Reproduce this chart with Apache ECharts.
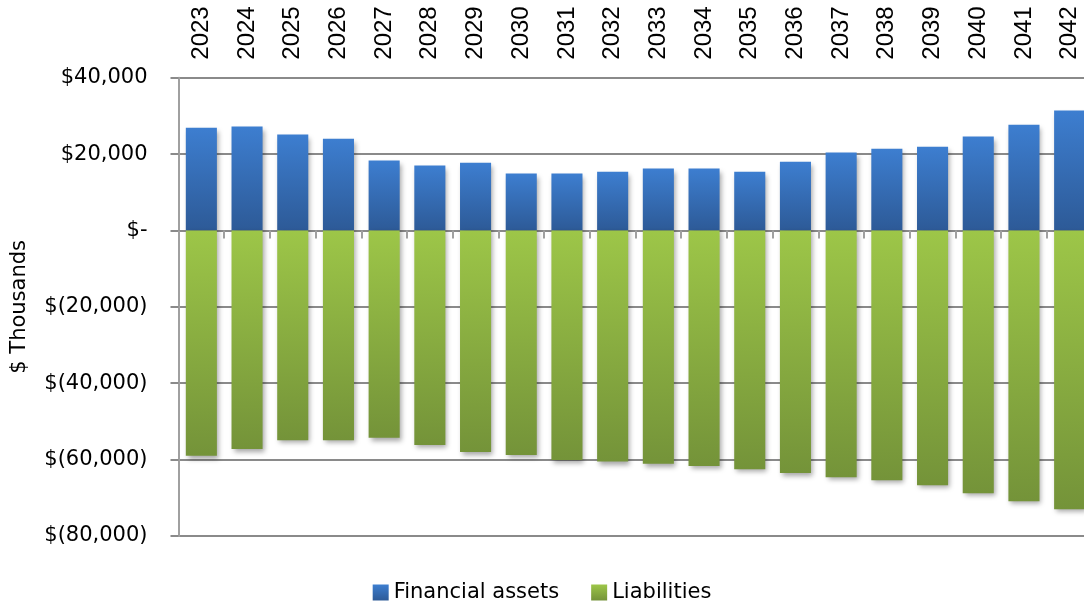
<!DOCTYPE html>
<html>
<head>
<meta charset="utf-8">
<script src="https://cdn.jsdelivr.net/npm/echarts@6/dist/echarts.min.js"></script>
<style>
  html, body { margin: 0; padding: 0; background: #fff; }
  #main { width: 1084px; height: 603px; }
</style>
</head>
<body>
<div id="main"></div>
<script>
var years = ['2023','2024','2025','2026','2027','2028','2029','2030','2031','2032',
             '2033','2034','2035','2036','2037','2038','2039','2040','2041','2042'];
// $ thousands
var financialAssets = [26900, 27200, 25100, 24000, 18300, 17000, 17700, 14900, 14900, 15400,
                       16200, 16200, 15400, 18000, 20400, 21400, 21900, 24600, 27700, 31400];
var liabilities = [-59000, -57200, -54900, -54900, -54300, -56200, -58000, -58800, -60100, -60500,
                   -61100, -61700, -62500, -63500, -64600, -65400, -66700, -68800, -70900, -73000];
var seriesNames = ['Financial assets', 'Liabilities'];

// 金额格式：$40,000 / $- / $(20,000)
var fmtMoney = function(v){
    if (v === 0) return '$-';
    var s = Math.abs(v).toLocaleString('en-US');
    return v < 0 ? '$(' + s + ')' : '$' + s;
};

var barShadow = {
    shadowColor: 'rgba(0,0,0,0.35)',
    shadowBlur: 5,
    shadowOffsetX: 2,
    shadowOffsetY: 3
};

var blueGrad = new echarts.graphic.LinearGradient(0, 0, 0, 1, [
    {offset: 0, color: '#3d7ed0'},
    {offset: 1, color: '#2d5a97'}
]);
var greenGrad = new echarts.graphic.LinearGradient(0, 0, 0, 1, [
    {offset: 0, color: '#9dc648'},
    {offset: 1, color: '#749339'}
]);

var option = {
    animation: false,
    textStyle: { fontFamily: 'DejaVu Sans', color: '#000' },
    grid: {
        left: 178.5, top: 77.7, width: 914, height: 458.3,
        containLabel: false,
        outerBoundsMode: 'none'
    },
    legend: {
        data: seriesNames,
        top: 577,
        left: 'center',
        icon: 'rect',
        itemWidth: 16,
        itemHeight: 16,
        itemGap: 32,
        textStyle: { fontSize: 21, color: '#000', fontFamily: 'DejaVu Sans' }
    },
    xAxis: [
        {
            type: 'category',
            data: years,
            position: 'top',
            axisLine: { show: false, onZero: false },
            axisTick: { show: false },
            axisLabel: {
                rotate: -90,
                margin: 18,
                fontSize: 24,
                fontFamily: 'Liberation Sans',
                color: '#000'
            }
        },
        {
            type: 'category',
            data: years,
            position: 'bottom',
            axisLine: { show: true, onZero: true, lineStyle: { color: '#8a8a8a', width: 2 } },
            axisTick: { show: true, length: 8, alignWithLabel: false, lineStyle: { color: '#a0a0a0', width: 2 } },
            axisLabel: { show: false }
        }
    ],
    yAxis: {
        type: 'value',
        min: -80000,
        max: 40000,
        interval: 20000,
        name: '$ Thousands',
        nameLocation: 'middle',
        nameGap: 148,
        nameTextStyle: { fontSize: 21, color: '#000', fontFamily: 'DejaVu Sans' },
        axisLine: { show: true, lineStyle: { color: '#a0a0a0', width: 2 } },
        axisTick: { show: true, length: 8, lineStyle: { color: '#8a8a8a', width: 2 } },
        splitLine: { show: true, lineStyle: { color: '#8a8a8a', width: 2 } },
        axisLabel: {
            margin: 31,
            fontSize: 21,
            color: '#000',
            fontFamily: 'DejaVu Sans',
            formatter: fmtMoney
        }
    },
    series: [
        {
            name: seriesNames[0],
            type: 'bar',
            stack: 'total',
            xAxisIndex: 0,
            data: financialAssets,
            barCategoryGap: '32%',
            itemStyle: Object.assign({ color: blueGrad }, barShadow)
        },
        {
            name: seriesNames[1],
            type: 'bar',
            stack: 'total',
            xAxisIndex: 0,
            data: liabilities,
            barCategoryGap: '32%',
            itemStyle: Object.assign({ color: greenGrad }, barShadow)
        }
    ]
};

var myChart = echarts.init(document.getElementById('main'));
myChart.setOption(option);
</script>
</body>
</html>
